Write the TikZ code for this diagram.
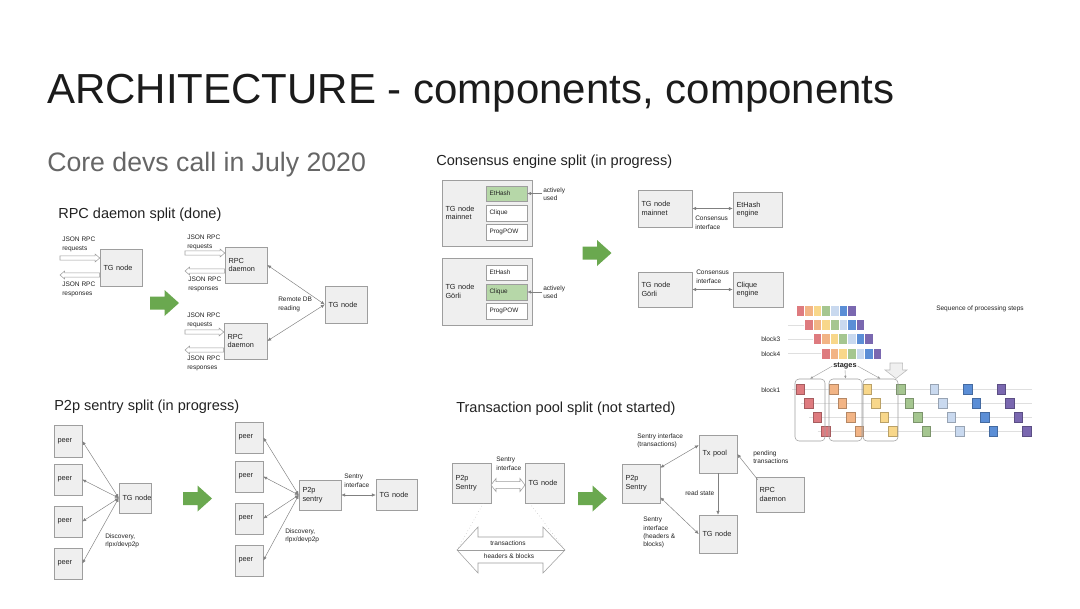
\documentclass[tikz,border=0pt]{standalone}
\usepackage{fontspec}
\setmainfont{Liberation Sans}
\usetikzlibrary{arrows.meta,calc}
\definecolor{boxfill}{HTML}{EFEFEF}
\definecolor{boxline}{HTML}{9E9E9E}
\definecolor{grnfill}{HTML}{B6D7A8}
\definecolor{garrowc}{HTML}{6AA84F}
\definecolor{ink}{HTML}{222222}
\definecolor{titleink}{HTML}{1B1B1B}
\definecolor{subink}{HTML}{666666}
\definecolor{conn}{HTML}{808080}
\definecolor{cR}{HTML}{DE7B7F}
\definecolor{cO}{HTML}{F2B485}
\definecolor{cY}{HTML}{F8D78A}
\definecolor{cG}{HTML}{A5C690}
\definecolor{cL}{HTML}{C9D9EF}
\definecolor{cB}{HTML}{5B8ED6}
\definecolor{cP}{HTML}{7A68B0}
\newcommand\bx[7][]{%
  \pgfmathsetmacro\bxw{(#5-#3)*0.75}%
  \pgfmathsetmacro\bxh{(#6-#4)*0.75}%
  \pgfmathsetmacro\bxt{(#5-#3-7)*0.75}%
  \node[box,minimum width=\bxw pt,minimum height=\bxh pt,text width=\bxt pt,#1] (#2) at ({(#3+#5)/2},{(#4+#6)/2}) {#7};}
\newcommand\garr[2]{%
  \begin{scope}[shift={(#1,#2)}]
  \fill[garrowc] (-14.5,-6.5) -- (0,-6.5) -- (0,-13) -- (14.5,0) -- (0,13) -- (0,6.5) -- (-14.5,6.5) -- cycle;
  \end{scope}}
% hollow block arrow from #1 to #2 (horizontal): half shaft #3, half head #4, head length #5
\newcommand\hollow[5]{%
  \draw[hol] let \p1=(#1), \p2=(#2), \n1={sign(\x2-\x1)} in
   (\x1,\y1+#3) -- ({\x2-\n1*#5},\y1+#3) -- ({\x2-\n1*#5},\y1+#4) -- (\x2,\y1)
   -- ({\x2-\n1*#5},\y1-#4) -- ({\x2-\n1*#5},\y1-#3) -- (\x1,\y1-#3) -- cycle;}
\begin{document}
\begin{tikzpicture}[x=0.75pt,y=-0.75pt,
  box/.style={draw=boxline,fill=boxfill,line width=0.4pt,inner xsep=2.25pt,inner ysep=0pt,align=left,font=\fontsize{5.5}{6.5}\selectfont,text=ink},
  wbox/.style={fill=white},
  gbox/.style={fill=grnfill},
  small/.style={font=\fontsize{4.8}{5.7}\selectfont},
  stagebox/.style={draw=gray!75,fill=none,rounded corners=3pt},
  ann/.style={inner sep=0pt,anchor=north west,align=left,font=\fontsize{4.9}{6.2}\selectfont,text=ink},
  head/.style={anchor=base west,inner sep=0pt,font=\fontsize{10.9}{13}\selectfont,text=ink},
  con/.style={draw=conn,line width=0.35pt},
  bi/.style={con,{Latex[length=2.9pt,width=2.5pt]}-{Latex[length=2.9pt,width=2.5pt]}},
  uni/.style={con,-{Latex[length=2.9pt,width=2.5pt]}},
  hol/.style={draw=boxline,fill=white,line width=0.4pt},
  dots/.style={draw=gray!60,dotted,line width=0.35pt},
  gridline/.style={draw=gray!25,line width=0.3pt},
  sarrow/.style={draw=gray!80,line width=0.3pt,-{Latex[length=2.2pt,width=1.8pt]}}
]
\useasboundingbox (0,0) rectangle (1080,608);
\fill[white] (0,0) rectangle (1080,608);

% ---------- titles ----------
\node[anchor=base west,inner sep=0pt,font=\fontsize{31.5}{36}\selectfont,text=titleink] (title) at (47,103) {ARCHITECTURE - components, components};
\node[anchor=base west,inner sep=0pt,font=\fontsize{20}{24}\selectfont,text=subink] (subtitle) at (47,171) {Core devs call in July 2020};
\node[head] (h1) at (58,218) {RPC daemon split (done)};
\node[head] (h2) at (436,165) {Consensus engine split (in progress)};
\node[head] (h3) at (54,410) {P2p sentry split (in progress)};
\node[head] (h4) at (456,412) {Transaction pool split (not started)};

% ---------- RPC daemon split ----------
\bx{tgA}{100}{249}{142}{286}{TG node}
\bx{rpcA}{225}{247}{267}{283}{RPC\\daemon}
\bx{rpcB}{224}{323}{267}{359}{RPC\\daemon}
\bx{tgB}{325}{286}{367}{323}{TG node}
\coordinate (qa) at (60,258);
\coordinate (ra) at (60,275);
\coordinate (qb) at (185,253);
\coordinate (rb) at (185,271);
\coordinate (qc) at (185,332);
\coordinate (rc) at (185,350);
\hollow{qa}{qa -| tgA.west}{1.6pt}{3pt}{3.5pt}
\hollow{ra -| tgA.west}{ra}{1.6pt}{3pt}{3.5pt}
\hollow{qb}{qb -| rpcA.west}{1.6pt}{3pt}{3.5pt}
\hollow{rb -| rpcA.west}{rb}{1.6pt}{3pt}{3.5pt}
\hollow{qc}{qc -| rpcB.west}{1.6pt}{3pt}{3.5pt}
\hollow{rc -| rpcB.west}{rc}{1.6pt}{3pt}{3.5pt}
\node[ann] (ja1) at (62,237) {JSON RPC\\requests};
\node[ann] (ja2) at (62,282) {JSON RPC\\responses};
\node[ann] (jb1) at (187,235) {JSON RPC\\requests};
\node[ann] (jb2) at (188,277) {JSON RPC\\responses};
\node[ann] (jc1) at (187,313) {JSON RPC\\requests};
\node[ann] (jc2) at (187,356) {JSON RPC\\responses};
\node[ann] (rdb) at (278,297) {Remote DB\\reading};
\draw[bi] (tgB.west) -- (rpcA.east);
\draw[bi] (tgB.west) -- (rpcB.east);
\garr{164.5}{303}

% ---------- Consensus engine split ----------
\bx{bigA}{442}{180}{532}{246}{TG node\\mainnet}
\bx[gbox,small]{ehA}{486}{186}{527}{201}{EtHash}
\bx[wbox,small]{clA}{486}{205}{527}{221}{Clique}
\bx[wbox,small]{ppA}{486}{224}{527}{240}{ProgPOW}
\bx{bigB}{442}{258}{532}{325}{TG node\\Görli}
\bx[wbox,small]{ehB}{486}{265}{527}{280}{EtHash}
\bx[gbox,small]{clB}{486}{284}{527}{300}{Clique}
\bx[wbox,small]{ppB}{486}{303}{527}{319}{ProgPOW}
\coordinate (auA) at (542,193.5);
\coordinate (auB) at (542,292);
\node[ann] (tauA) at (543,187) {actively\\used};
\node[ann] (tauB) at (543,285) {actively\\used};
\draw[uni] (auA) -- (auA -| ehA.east);
\draw[uni] (auB) -- (auB -| clB.east);
\garr{597}{253}
\bx{tgM}{638}{190}{692}{227}{TG node\\mainnet}
\bx{ehE}{733}{192}{782}{227}{EtHash\\engine}
\draw[bi] (tgM.east) -- (tgM.east -| ehE.west);
\node[ann] (ciA) at (695,216) {Consensus\\interface};
\bx{tgG}{638}{272}{692}{307}{TG node\\Görli}
\bx{clE}{733}{272}{783}{307}{Clique\\engine}
\draw[bi] (tgG.east) -- (clE.west);
\node[ann] (ciB) at (696,270) {Consensus\\interface};

% ---------- stages picture ----------
\node[ann,anchor=center] (seq) at (980,309) {Sequence of processing steps};
\foreach \r in {0,1,2,3} {
  \pgfmathsetmacro\yy{305+14.3*\r}
  \pgfmathsetmacro\xs{796+8.5*\r}
  \ifnum\r>0 \draw[gridline] (788,\yy+5.5) -- (\xs,\yy+5.5); \fi
  \foreach \c/\cc in {0/cR,1/cO,2/cY,3/cG,4/cL,5/cB,6/cP} {
    \filldraw[fill=\cc,draw=white,line width=0.4pt] (\xs+8.57*\c,\yy) rectangle (\xs+8.57*\c+8.57,\yy+11);
  }
}
\node[ann,anchor=west] (b3) at (761,339) {block3};
\node[ann,anchor=west] (b4) at (761,354) {block4};
\node[ann,anchor=west] (b1) at (761,390) {block1};
\foreach \r in {0,1,2,3} {
  \pgfmathsetmacro\yy{389+14*\r}
  \draw[gridline] ({792+8.5*\r},\yy) -- (1032,\yy);
  \foreach \c/\cc in {0/cR,1/cO,2/cY,3/cG,4/cL,5/cB,6/cP} {
    \pgfmathsetmacro\xx{800+33.5*\c+8.5*\r}
    \filldraw[fill=\cc,draw=\cc!75!black,line width=0.2pt] (\xx-4.3,\yy-5) rectangle (\xx+4.3,\yy+5);
  }
}
\bx[stagebox]{sg1}{795}{379}{825}{441}{}
\bx[stagebox]{sg2}{829}{379}{862}{441}{}
\bx[stagebox]{sg3}{863}{379}{898}{441}{}
\node[inner sep=0.5pt,font=\bfseries\fontsize{5.5}{6}\selectfont,text=ink] (stg) at (845,366) {stages};
\draw[sarrow] (stg.west) -- (sg1.north);
\draw[sarrow] (stg.south) -- (sg2.north);
\draw[sarrow] (stg.east) -- (sg3.north);
\filldraw[fill=gray!12,draw=gray!55,line width=0.4pt] (890,363) -- (902.7,363) -- (902.7,370) -- (907,370) -- (896,378.5) -- (885,370) -- (890,370) -- cycle;

% ---------- P2p sentry split ----------
\bx{pA1}{54}{425}{82}{457}{peer}
\bx{pA2}{54}{464}{82}{495}{peer}
\bx{pA3}{54}{506}{82}{537}{peer}
\bx{pA4}{54}{548}{82}{579}{peer}
\bx{tgP}{119}{483}{151}{513}{TG~node}
\foreach \i in {1,...,4} \draw[bi] (tgP.west) -- (pA\i.east);
\node[ann] (dA) at (105,533) {Discovery,\\rlpx/devp2p};
\garr{197.5}{498.5}
\bx{pB1}{235}{422}{263}{453}{peer}
\bx{pB2}{235}{461}{263}{492}{peer}
\bx{pB3}{235}{503}{263}{534}{peer}
\bx{pB4}{235}{545}{263}{576}{peer}
\bx{sP}{299}{480}{341}{510}{P2p\\sentry}
\bx{tgS}{376}{479}{417}{510}{TG node}
\foreach \i in {1,...,4} \draw[bi] (sP.west) -- (pB\i.east);
\draw[bi] (sP.east) -- (sP.east -| tgS.west);
\node[ann] (siA) at (344,474) {Sentry\\interface};
\node[ann] (dB) at (285,528) {Discovery,\\rlpx/devp2p};

% ---------- Transaction pool split ----------
\bx{tS}{452}{463}{491}{503}{P2p\\Sentry}
\bx{tT}{525}{463}{564}{503}{TG node}
\node[ann] (siB) at (496,457) {Sentry\\interface};
\coordinate (hiA) at (491,485);
\coordinate (hiB) at (525,485);
\draw[hol] let \p1=(hiA), \p2=(hiB) in
  (\x1,\y1) -- (\x1+3.75pt,\y1+4.9pt) -- (\x1+3.75pt,\y1+2.5pt) -- (\x2-3.75pt,\y1+2.5pt)
  -- (\x2-3.75pt,\y1+4.9pt) -- (\x2,\y1) -- (\x2-3.75pt,\y1-4.9pt) -- (\x2-3.75pt,\y1-2.5pt)
  -- (\x1+3.75pt,\y1-2.5pt) -- (\x1+3.75pt,\y1-4.9pt) -- cycle;
\coordinate (tipL) at (457,550);
\coordinate (tipR) at (565,550);
\draw[dots] ($(tS.south east)+(-8,0)$) -- (tipL);
\draw[dots] ($(tT.south west)+(5,0)$) -- (tipR);
\draw[hol] (tipL) -- (478,527) -- (478,537) -- (543,537) -- (543,527) -- (tipR)
  -- (543,573) -- (543,563) -- (478,563) -- (478,573) -- cycle;
\draw[draw=boxline,line width=0.4pt] (tipL) -- (tipR);
\node[ann,anchor=center] (trn) at (508,543.5) {transactions};
\node[ann,anchor=center] (hb) at (509,556.5) {headers \& blocks};
\garr{592.5}{498.5}
\bx{rS}{622}{464}{660}{503}{P2p\\Sentry}
\bx{tx}{699}{435}{737}{473}{Tx pool}
\bx{rT}{699}{515}{737}{553}{TG node}
\bx{rD}{756}{477}{804}{512}{RPC\\daemon}
\draw[bi] ($(tx.north west)!0.27!(tx.south west)$) -- ($(rS.north east)!0.1!(rS.south east)$);
\draw[uni] ($(rD.north west)+(2,3)$) -- (tx.east);
\draw[uni] (tx.south) -- (rT.north);
\draw[bi] ($(rS.south east)!0.15!(rS.north east)$) -- (rT.west);
\node[ann] (siC) at (637,433) {Sentry interface\\(transactions)};
\node[ann] (pt) at (753,450) {pending\\transactions};
\node[ann] (rs) at (685,490) {read state};
\node[ann] (siD) at (643,517) {Sentry\\interface\\(headers \&\\blocks)};
\end{tikzpicture}
\end{document}
